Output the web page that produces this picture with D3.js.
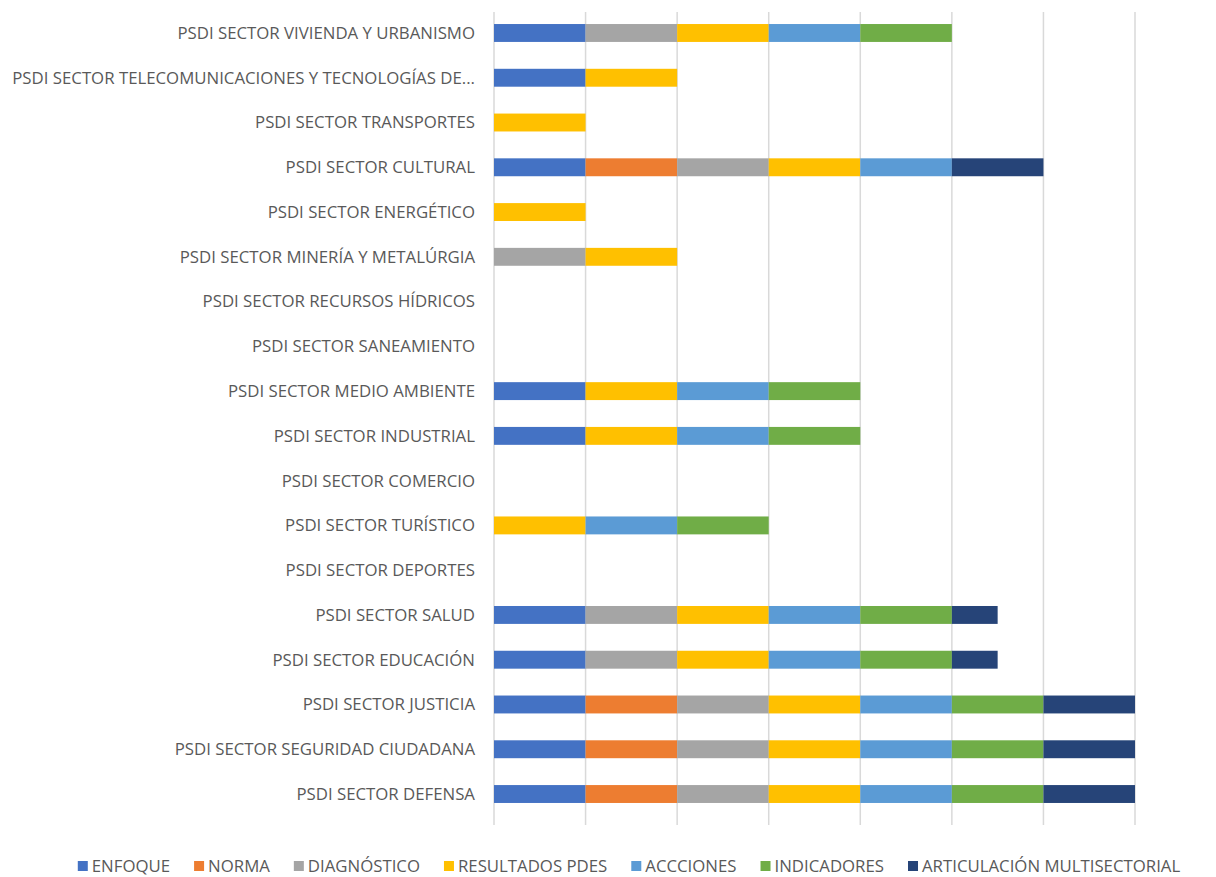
<!DOCTYPE html>
<head>
<meta charset="utf-8">
<title>PSDI sectores</title>
<style>
  body { margin: 0; background: #fff; }
  svg { display: block; }
  .cat { font: 16.8px "Open Sans", sans-serif; fill: #595959; }
  .leg { font: 16.8px "Open Sans", sans-serif; fill: #595959; }
  .grid line { stroke: #d9d9d9; stroke-width: 1.5px; }
</style>
</head>
<body>
<script src="https://d3js.org/d3.v7.min.js"></script>
<script>

// categories from top to bottom
var sectors = [
  "PSDI SECTOR VIVIENDA Y URBANISMO",
  "PSDI SECTOR TELECOMUNICACIONES Y TECNOLOGÍAS DE...",
  "PSDI SECTOR TRANSPORTES",
  "PSDI SECTOR CULTURAL",
  "PSDI SECTOR ENERGÉTICO",
  "PSDI SECTOR MINERÍA Y METALÚRGIA",
  "PSDI SECTOR RECURSOS HÍDRICOS",
  "PSDI SECTOR SANEAMIENTO",
  "PSDI SECTOR MEDIO AMBIENTE",
  "PSDI SECTOR INDUSTRIAL",
  "PSDI SECTOR COMERCIO",
  "PSDI SECTOR TURÍSTICO",
  "PSDI SECTOR DEPORTES",
  "PSDI SECTOR SALUD",
  "PSDI SECTOR EDUCACIÓN",
  "PSDI SECTOR JUSTICIA",
  "PSDI SECTOR SEGURIDAD CIUDADANA",
  "PSDI SECTOR DEFENSA"
];

var series = ["ENFOQUE", "NORMA", "DIAGNÓSTICO", "RESULTADOS PDES", "ACCCIONES", "INDICADORES", "ARTICULACIÓN MULTISECTORIAL"];
var colors = ["#4472c4", "#ed7d31", "#a5a5a5", "#ffc000", "#5b9bd5", "#70ad47", "#264478"];

// one array per series, same order as sectors
var enfoque      = [1,1,0,1,0,0,0,0,1,1,0,0,0,1,1,1,1,1];
var norma        = [0,0,0,1,0,0,0,0,0,0,0,0,0,0,0,1,1,1];
var diagnostico  = [1,0,0,1,0,1,0,0,0,0,0,0,0,1,1,1,1,1];
var resultados   = [1,1,1,1,1,1,0,0,1,1,0,1,0,1,1,1,1,1];
var acciones     = [1,0,0,1,0,0,0,0,1,1,0,1,0,1,1,1,1,1];
var indicadores  = [1,0,0,0,0,0,0,0,1,1,0,1,0,1,1,1,1,1];
var articulacion = [0,0,0,1,0,0,0,0,0,0,0,0,0,0.5,0.5,1,1,1];

var values = [enfoque, norma, diagnostico, resultados, acciones, indicadores, articulacion];

var width = 1216, height = 877;
var x0 = 494, x1 = 1135, yTop = 10.6, yBot = 816.4;

var table = sectors.map(function(s, i) {
  var row = { sector: s };
  series.forEach(function(k, j) { row[k] = values[j][i]; });
  return row;
});

var stacked = d3.stack().keys(series)(table);

var x = d3.scaleLinear().domain([0, 7]).range([x0, x1]);
var y = d3.scaleBand().domain(sectors).range([yTop, yBot]).paddingInner(0.6).paddingOuter(0.3);

var svg = d3.select("body").append("svg")
    .attr("width", width)
    .attr("height", height);

svg.append("g")
    .attr("class", "grid")
  .selectAll("line")
  .data(x.ticks(7))
  .enter().append("line")
    .attr("x1", function(d) { return x(d); })
    .attr("x2", function(d) { return x(d); })
    .attr("y1", 12)
    .attr("y2", 825);

svg.append("g")
  .selectAll("g")
  .data(stacked)
  .enter().append("g")
    .attr("fill", function(d, i) { return colors[i]; })
  .selectAll("rect")
  .data(function(d) { return d; })
  .enter().append("rect")
    .attr("x", function(d) { return x(d[0]); })
    .attr("width", function(d) { return x(d[1]) - x(d[0]); })
    .attr("y", function(d) { return y(d.data.sector); })
    .attr("height", y.bandwidth());

svg.append("g")
  .selectAll("text")
  .data(sectors)
  .enter().append("text")
    .attr("class", "cat")
    .attr("x", 475)
    .attr("y", function(d) { return y(d) + y.bandwidth() / 2; })
    .attr("dy", "0.35em")
    .attr("text-anchor", "end")
    .text(function(d) { return d; });

// legend
var legend = svg.append("g").attr("transform", "translate(0,866)");
var items = legend.selectAll("g")
  .data(series)
  .enter().append("g");

items.append("rect")
    .attr("width", 10)
    .attr("height", 10)
    .attr("y", -5)
    .attr("fill", function(d, i) { return colors[i]; });

items.append("text")
    .attr("class", "leg")
    .attr("x", 14)
    .attr("dy", "0.35em")
    .text(function(d) { return d; });

var gap = 24, pos = 0, offs = [];
items.each(function() {
  offs.push(pos);
  pos += 14 + this.querySelector("text").getComputedTextLength() + gap;
});
var total = pos - gap, start = 629 - total / 2;
items.attr("transform", function(d, i) { return "translate(" + (start + offs[i]) + ",0)"; });

</script>
</body>
